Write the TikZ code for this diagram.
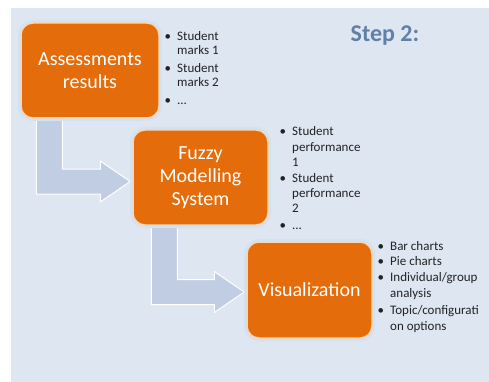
\documentclass[tikz,border=0pt]{standalone}
\usepackage{fontspec}
\setmainfont{Carlito}
\usetikzlibrary{calc}

\definecolor{panel}{RGB}{222,230,242}
\definecolor{boxorange}{RGB}{228,108,10}
\definecolor{boxrim}{RGB}{250,214,176}
\definecolor{halo}{RGB}{208,227,246}
\definecolor{flowfill}{RGB}{193,205,226}
\definecolor{steptitle}{RGB}{96,128,166}
\definecolor{listtext}{RGB}{35,35,35}

\pgfdeclarelayer{background}
\pgfsetlayers{background,main}

\tikzset{
  stage/.style={draw=boxrim, line width=1.5pt, fill=boxorange,
    rounded corners=12pt, text=white, align=center, inner sep=0pt,
    font=\fontsize{20}{23}\selectfont,
    preaction={draw=halo, line width=6pt}},
  flow/.style={fill=flowfill, draw=white, line width=1pt, line join=miter},
  % the base anchor of a multi-line item is the baseline of its last line
  listitem/.style={anchor=base west, inner sep=0pt, align=left, text=listtext},
}

% bullet hung in the left margin of a list item
\newcommand\bul{\makebox[0pt][r]{\textbullet\hspace{6pt}}}

% bent block arrow: down out of #1, then right into #2
% #3 = offset of the stem from the left side of #1, #4 = tip shift downwards
\newcommand\bentarrow[4]{%
  \path[flow] let \p1=(#1.south west), \p2=(#2.west) in
    (\x1+#3, \y1+4pt) -- (\x1+#3+26pt, \y1+4pt)
    -- (\x1+#3+26pt, \y2-#4+12.5pt) -- (\x2-32pt, \y2-#4+12.5pt)
    -- (\x2-32pt, \y2-#4+20.5pt) -- (\x2-2pt, \y2-#4)
    -- (\x2-32pt, \y2-#4-20.5pt) -- (\x2-32pt, \y2-#4-12.5pt)
    -- (\x1+#3, \y2-#4-12.5pt) -- cycle;
}

\begin{document}
\begin{tikzpicture}[x=1pt, y=-1pt]
  \useasboundingbox (0,0) rectangle (489,382);
  \begin{pgfonlayer}{background}
    \fill[panel] (11,8) rectangle (489,382);
  \end{pgfonlayer}

  % process stages
  \node[stage, minimum width=138pt, minimum height=95pt] (assess) at (90,70.5)
    {Assessments\\results};
  \node[stage, minimum width=135pt, minimum height=95pt] (fuzzy) at (200.5,177.5)
    {Fuzzy\\Modelling\\System};
  \node[stage, minimum width=125pt, minimum height=96pt] (vis) at (309.5,290)
    {Visualization};

  % arrows between stages, kept behind the boxes
  \begin{pgfonlayer}{background}
    \bentarrow{assess}{fuzzy}{16pt}{4pt}
    \bentarrow{fuzzy}{vis}{19pt}{2pt}
  \end{pgfonlayer}

  \node[font=\fontsize{24}{28}\selectfont\bfseries, text=steptitle] (title)
    at (385,36) {Step 2:};

  % inputs
  \begin{scope}[every node/.append style={listitem, font=\fontsize{13}{14}\selectfont}]
    \node (m1) at (177,55)  {\bul Student\\marks 1};
    \node (m2) at (177,87)  {\bul Student\\marks 2};
    \node (m3) at (177,105) {\bul ...};
  \end{scope}
  % model outputs
  \begin{scope}[every node/.append style={listitem, font=\fontsize{13}{15}\selectfont}]
    \node (p1) at (292,166) {\bul Student\\performance\\1};
    \node (p2) at (292,212) {\bul Student\\performance\\2};
    \node (p3) at (292,229) {\bul ...};
  \end{scope}
  % visual outputs
  \begin{scope}[every node/.append style={listitem, font=\fontsize{13}{16}\selectfont}]
    \node (v1) at (390,250) {\bul Bar charts};
    \node (v2) at (390,265) {\bul Pie charts};
    \node (v3) at (390,297) {\bul Individual/group\\analysis};
    \node (v4) at (390,330) {\bul Topic/configurati\\on options};
  \end{scope}
\end{tikzpicture}
\end{document}
